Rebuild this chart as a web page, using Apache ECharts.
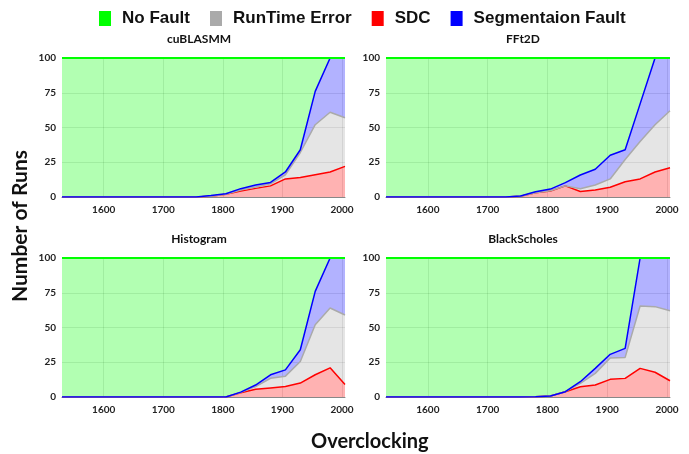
<!DOCTYPE html>
<html><head><meta charset="utf-8">
<script src="https://cdn.jsdelivr.net/npm/echarts@6/dist/echarts.min.js"></script>
<style>html,body{margin:0;padding:0;background:#fff}#c{width:689px;height:454px}</style>
</head><body><div id="c"></div>
<script>
// x values (clock, MHz)
const clocks = [1530,1555,1580,1605,1630,1655,1680,1705,1730,1755,1780,1805,1830,1855,1880,1905,1930,1955,1980,2005];
const xTickValues = [1600,1700,1800,1900,2000];
const panelTitles = ['cuBLASMM','FFt2D','Histogram','BlackScholes'];
const seriesNames = ['No Fault','RunTime Error','SDC','Segmentaion Fault'];

// cuBLASMM
const cublasSDC     = [0,0,0,0,0,0,0,0,0,0,0.5,2,4.3,6.2,8,13,14,16,18,22];
const cublasRT      = [0,0,0,0,0,0,0,0,0,0,0,0,0.7,1,1.5,3,18,36,43,35];
const cublasSeg     = [0,0,0,0,0,0,0,0,0,0,0.5,0.3,1,1.4,1,2,2,24,39,43];
const cublasNoFault = [100,100,100,100,100,100,100,100,100,100,99,97.7,94,91.4,89.5,82,66,24,0,0];
// FFt2D
const fftSDC     = [0,0,0,0,0,0,0,0,0,0.5,3,4.3,8,4,5,7,11,13,18,21];
const fftRT      = [0,0,0,0,0,0,0,0,0,0,0,0.2,0,2,3.6,6,16,27,34,41];
const fftSeg     = [0,0,0,0,0,0,0,0,0,0.2,0.8,1.2,2.3,9.8,11.4,17,7,27,48,38];
const fftNoFault = [100,100,100,100,100,100,100,100,100,99.3,96.2,94.3,89.7,84.2,80,70,66,33,0,0];
// Histogram
const histSDC     = [0,0,0,0,0,0,0,0,0,0,0,0,3,5.5,6.5,7.5,10,16,21,9];
const histRT      = [0,0,0,0,0,0,0,0,0,0,0,0,0.3,2,7,7.5,15.5,36,43,50];
const histSeg     = [0,0,0,0,0,0,0,0,0,0,0,0,0.2,1.1,2.5,4.5,8.5,24,36,41];
const histNoFault = [100,100,100,100,100,100,100,100,100,100,100,100,96.5,91.4,84,80.5,66,24,0,0];
// BlackScholes
const bsSDC     = [0,0,0,0,0,0,0,0,0,0,0.2,0.7,3.8,7.4,8.6,12.7,13.4,20.6,17.8,11.7];
const bsRT      = [0,0,0,0,0,0,0,0,0,0,0,0,0,2.4,8.4,15.3,15.1,44.9,47.2,50.3];
const bsSeg     = [0,0,0,0,0,0,0,0,0,0,0,0,0,1.2,3.6,2.7,6.5,34.5,35,38];
const bsNoFault = [100,100,100,100,100,100,100,100,100,100,99.8,99.3,96.2,89,79.4,69.3,65,0,0,0];

const panels = [
  {sdc: cublasSDC, rt: cublasRT, seg: cublasSeg, nf: cublasNoFault},
  {sdc: fftSDC, rt: fftRT, seg: fftSeg, nf: fftNoFault},
  {sdc: histSDC, rt: histRT, seg: histSeg, nf: histNoFault},
  {sdc: bsSDC, rt: bsRT, seg: bsSeg, nf: bsNoFault}
];

const colors = {'No Fault':'#00ff00','RunTime Error':'#aaaaaa','SDC':'#ff0000','Segmentaion Fault':'#0000ff'};
const gridPos = [
  {left: 62, top: 58, width: 283, height: 139},
  {left: 386, top: 58, width: 284, height: 139},
  {left: 62, top: 258, width: 283, height: 139},
  {left: 386, top: 258, width: 284, height: 139}
];
const titleCenters = [[194, 28], [518, 28], [194, 228], [518, 228]];

const tickFont = {fontFamily: 'Lato', fontWeight: 'bold', fontSize: 10, color: '#222'};

const grids = [], xAxes = [], yAxes = [], series = [], titles = [];
panels.forEach((p, i) => {
  grids.push(Object.assign({containLabel: false}, gridPos[i]));
  // category axis carrying the data points (hidden)
  xAxes.push({
    type: 'category', gridIndex: i, data: clocks, boundaryGap: false, show: false,
    splitLine: {show: false}
  });
  // value axis for ticks/labels/grid lines
  xAxes.push({
    type: 'value', gridIndex: i, min: 1530, max: 2005, position: 'bottom',
    axisLine: {show: true, onZero: false, lineStyle: {color: '#888'}},
    axisTick: {show: false, customValues: xTickValues},
    axisLabel: Object.assign({customValues: xTickValues, margin: 8, formatter: v => String(v)}, tickFont),
    splitLine: {show: true, lineStyle: {color: 'rgba(0,0,0,0.1)', width: 1}}
  });
  yAxes.push({
    type: 'value', gridIndex: i, min: 0, max: 100, interval: 25,
    axisLine: {show: false}, axisTick: {show: false},
    axisLabel: Object.assign({margin: 6}, tickFont),
    splitLine: {show: true, lineStyle: {color: 'rgba(0,0,0,0.1)', width: 1}}
  });
  titles.push({
    text: panelTitles[i], left: titleCenters[i][0], top: titleCenters[i][1], textAlign: 'center',
    textStyle: {fontFamily: 'Lato', fontWeight: 'bold', fontSize: 12, color: '#111'}
  });
  const order = [['SDC', p.sdc], ['RunTime Error', p.rt], ['Segmentaion Fault', p.seg], ['No Fault', p.nf]];
  order.forEach(([name, vals]) => {
    series.push({
      name: name, type: 'line', xAxisIndex: 2 * i, yAxisIndex: i, stack: 'p' + i,
      data: vals,
      showSymbol: false, symbol: 'none', animation: false,
      itemStyle: {color: colors[name]},
      lineStyle: {color: colors[name], width: name === 'No Fault' ? 2 : 1.5},
      areaStyle: {color: colors[name], opacity: 0.3},
      z: 2
    });
  });
});

const chart = echarts.init(document.getElementById('c'), null, {renderer: 'canvas'});
chart.setOption({
  animation: false,
  backgroundColor: '#fff',
  title: titles,
  legend: {
    data: seriesNames, top: 5, left: 94, icon: 'rect', itemWidth: 12, itemHeight: 15, itemGap: 20,
    textStyle: {fontFamily: 'Liberation Sans', fontWeight: 'bold', fontSize: 17, color: '#111', padding: [0,0,0,6]}
  },
  grid: grids, xAxis: xAxes, yAxis: yAxes, series: series,
  graphic: [
    {type: 'text', left: 311, top: 432, style: {text: 'Overclocking', font: 'bold 20px Lato', fill: '#111'}},
    {type: 'text', x: 20, y: 226, rotation: Math.PI / 2, style: {text: 'Number of Runs', font: 'bold 21px Lato', fill: '#111', align: 'center', verticalAlign: 'middle'}}
  ]
});
</script></body></html>
